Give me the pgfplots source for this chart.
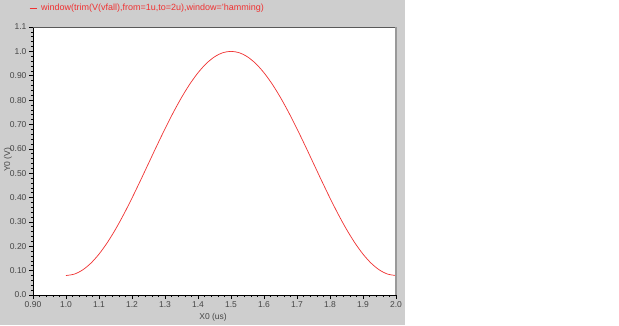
\documentclass[border=0pt]{standalone}
\usepackage{pgfplots}
\pgfplotsset{compat=1.18}
\usepackage{fontspec}
\setmainfont{Liberation Sans}
\definecolor{bgray}{RGB}{206,206,206}
\definecolor{txtgray}{RGB}{70,70,70}
\definecolor{curvered}{RGB}{240,50,50}
\begin{document}
\begin{tikzpicture}[x=1pt,y=1pt]
\fill[white] (0,0) rectangle (619,325);
\fill[bgray] (0,0) rectangle (405,325);
\begin{axis}[
  at={(33pt,30pt)}, anchor=south west,
  scale only axis, width=363pt, height=268pt,
  xmin=0.9, xmax=2.0, ymin=0, ymax=1.1,
  axis x line*=bottom, axis y line*=left,
  axis line style={-, black, line width=0.8pt},
  axis background/.style={fill=white},
  tick align=outside,
  major tick length=4pt, minor tick length=2pt,
  every tick/.style={black, line width=0.6pt},
  minor x tick num=4, minor y tick num=4,
  xtick={0.9,1.0,1.1,1.2,1.3,1.4,1.5,1.6,1.7,1.8,1.9,2.0},
  xticklabels={0.90,1.0,1.1,1.2,1.3,1.4,1.5,1.6,1.7,1.8,1.9,2.0},
  ytick={0,0.1,0.2,0.3,0.4,0.5,0.6,0.7,0.8,0.9,1.0,1.1},
  yticklabels={0.0,0.10,0.20,0.30,0.40,0.50,0.60,0.70,0.80,0.90,1.0,1.1},
  tick label style={font=\fontsize{8.5}{10}\selectfont, text=txtgray},
  xticklabel style={yshift=1pt},
  yticklabel style={xshift=1pt},
  xlabel={X0 (us)}, ylabel={Y0 (V)},
  every axis x label/.style={at={(rel axis cs:0.496,0)}, anchor=center, yshift=-22pt, font=\fontsize{8.5}{10}\selectfont, text=txtgray},
  every axis y label/.style={at={(rel axis cs:0,0.504)}, anchor=center, xshift=-25pt, rotate=90, font=\fontsize{8.5}{10}\selectfont, text=txtgray},
  legend style={at={(rel axis cs:0,1)}, anchor=west, xshift=-4pt, yshift=19pt, draw=none, fill=none, font=\fontsize{9}{10}\selectfont, text=curvered, inner sep=0pt, nodes={inner sep=1pt}},
  legend image code/.code={\draw[#1, line width=1pt] (0pt,0pt) -- (7pt,0pt); \path (10pt,0pt);},
  clip=false,
]
\addplot[curvered, line width=0.7pt, smooth] coordinates {
(1.000,0.08000) (1.025,0.08566) (1.050,0.10251) (1.075,0.13014) (1.100,0.16785)
(1.125,0.21473) (1.150,0.26962) (1.175,0.33116) (1.200,0.39785) (1.225,0.46804)
(1.250,0.54000) (1.275,0.61196) (1.300,0.68215) (1.325,0.74884) (1.350,0.81038)
(1.375,0.86527) (1.400,0.91215) (1.425,0.94986) (1.450,0.97749) (1.475,0.99434)
(1.500,1.00000) (1.525,0.99434) (1.550,0.97749) (1.575,0.94986) (1.600,0.91215)
(1.625,0.86527) (1.650,0.81038) (1.675,0.74884) (1.700,0.68215) (1.725,0.61196)
(1.750,0.54000) (1.775,0.46804) (1.800,0.39785) (1.825,0.33116) (1.850,0.26962)
(1.875,0.21473) (1.900,0.16785) (1.925,0.13014) (1.950,0.10251) (1.975,0.08566)
(2.000,0.08000)
};
\addlegendentry{window(trim(V(vfall),from=1u,to=2u),window='hamming)}
\draw[gray!70!black, line width=1pt] (rel axis cs:0,1) -- (rel axis cs:1,1);
\draw[gray!80, line width=2pt] (rel axis cs:1,1) -- (rel axis cs:1,0);
\end{axis}
\end{tikzpicture}
\end{document}
